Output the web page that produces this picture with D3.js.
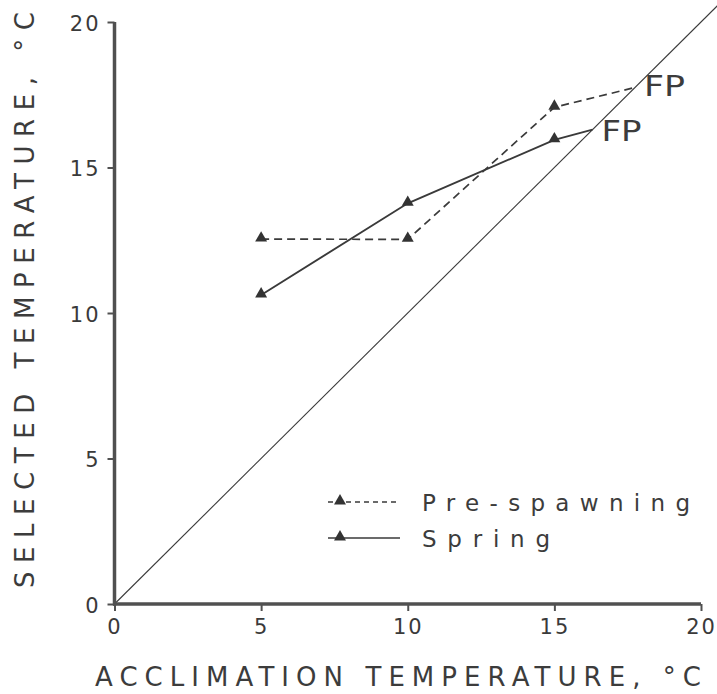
<!DOCTYPE html>
<html>
<head>
<meta charset="utf-8">
<script src="https://cdn.jsdelivr.net/npm/d3@7"></script>
<style>
  html, body { margin: 0; padding: 0; background: #fff; }
  svg { display: block; }
  text { font-family: "DejaVu Sans", "Liberation Sans", sans-serif; fill: #3c3c3c; }
</style>
</head>
<body>
<svg id="chart" width="717" height="694"></svg>
<script>
// ---- data ----
const xTicks = [0, 5, 10, 15, 20];
const yTicks = [0, 5, 10, 15, 20];
const preX = [5, 10, 15, 17.75];
const preY = [12.54, 12.53, 17.07, 17.75];
const springX = [5, 10, 15, 16.3];
const springY = [10.62, 13.77, 15.95, 16.3];
const markerCount = 3; // last point of each series is the FP end (no marker)
const seriesNames = ["Pre-spawning", "Spring"];
const xTitle = "ACCLIMATION TEMPERATURE, \u00B0C";
const yTitle = "SELECTED TEMPERATURE, \u00B0C";
const fpLabel = "FP";

const svg = d3.select("#chart");
const x = d3.scaleLinear().domain([0, 20]).range([114.5, 701]);
const y = d3.scaleLinear().domain([0, 20]).range([604, 22]);

const ink = "#3a3a3a";

// diagonal 1:1 line
svg.append("line")
  .attr("x1", x(0)).attr("y1", y(0))
  .attr("x2", x(20.6)).attr("y2", y(20.6))
  .style("stroke", ink).style("stroke-width", 1.1);

// axes
const xAxis = d3.axisBottom(x).tickValues(xTicks).tickSize(7).tickPadding(5).tickFormat(d3.format("d"));
const yAxis = d3.axisLeft(y).tickValues(yTicks).tickSize(7).tickPadding(7).tickFormat(d3.format("d"));

const gx = svg.append("g").attr("transform", `translate(0,${y(0)})`).call(xAxis);
const gy = svg.append("g").attr("transform", `translate(${x(0)},0)`).call(yAxis);
gx.select(".domain").attr("d", `M${x(0) - 1.5},0H${x(20)}`);
gy.select(".domain").attr("d", `M0,${y(0) + 1.5}V${y(20)}`);
[gx, gy].forEach(g => {
  g.select(".domain").style("stroke", "#505050").style("stroke-width", "3.5px");
  g.selectAll(".tick line").style("stroke", "#505050").style("stroke-width", "2px");
  g.selectAll(".tick text")
    .style("font-family", '"DejaVu Sans", sans-serif')
    .style("font-size", "21px").style("fill", ink).attr("letter-spacing", 2);
});
gx.selectAll(".tick text").attr("dy", "0.85em");
gy.selectAll(".tick text").attr("dy", "0.4em");

// series lines
const line = d3.line().x(d => x(d[0])).y(d => y(d[1]));
const pre = preX.map((v, i) => [v, preY[i]]);
const spring = springX.map((v, i) => [v, springY[i]]);

svg.append("path").datum(pre).attr("d", line)
  .style("fill", "none").style("stroke", ink).style("stroke-width", 1.7)
  .style("stroke-dasharray", "8,5");
svg.append("path").datum(spring).attr("d", line)
  .style("fill", "none").style("stroke", ink).style("stroke-width", 1.9);

const tri = d3.symbol().type(d3.symbolTriangle).size(62);
[pre, spring].forEach(s => {
  svg.append("g").selectAll("path").data(s.slice(0, markerCount)).join("path")
    .attr("d", tri)
    .attr("transform", d => `translate(${x(d[0])},${y(d[1]) - 1})`)
    .style("fill", "#333");
});

// FP labels
svg.append("text").attr("x", x(preX[3]) + 9).attr("y", y(preY[3]) + 9)
  .style("font-size", "29px").attr("textLength", 41).attr("lengthAdjust", "spacingAndGlyphs").text(fpLabel);
svg.append("text").attr("x", x(springX[3]) + 9).attr("y", y(springY[3]) + 11)
  .style("font-size", "29px").attr("textLength", 40).attr("lengthAdjust", "spacingAndGlyphs").text(fpLabel);

// legend
const lg = svg.append("g");
const legendRows = [
  { name: seriesNames[0], dash: "5,4", y: 502, len: 268 },
  { name: seriesNames[1], dash: null, y: 538, len: 128 }
];
legendRows.forEach(r => {
  lg.append("line").attr("x1", 328).attr("x2", 400).attr("y1", r.y).attr("y2", r.y)
    .style("stroke", ink).style("stroke-width", 1.7)
    .style("stroke-dasharray", r.dash);
  lg.append("path").attr("d", tri).attr("transform", `translate(340,${r.y - 1})`).style("fill", "#333");
  lg.append("text").attr("x", 422).attr("y", r.y + 9)
    .style("font-size", "23px").attr("textLength", r.len).attr("lengthAdjust", "spacing")
    .text(r.name);
});

// axis titles
svg.append("text").attr("x", 95).attr("y", 686)
  .style("font-size", "26px").attr("textLength", 606).attr("lengthAdjust", "spacing")
  .text(xTitle);
svg.append("text")
  .attr("transform", "translate(34,588) rotate(-90)")
  .style("font-size", "26px").attr("textLength", 576).attr("lengthAdjust", "spacing")
  .text(yTitle);
</script>
</body>
</html>
